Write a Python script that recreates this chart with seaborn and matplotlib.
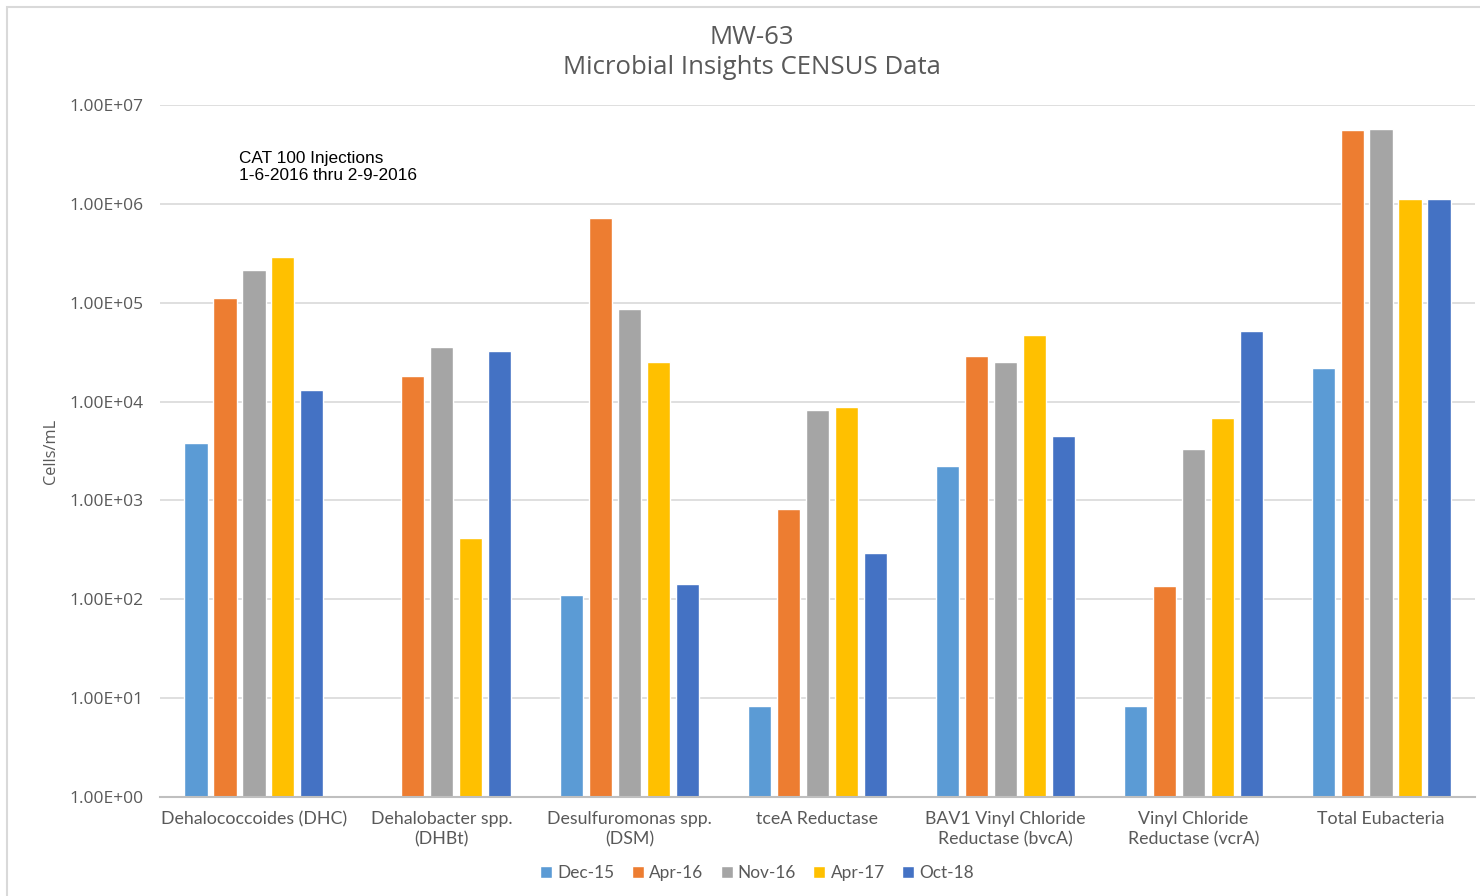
import numpy as np
import pandas as pd
import matplotlib
matplotlib.use("Agg")
import matplotlib.pyplot as plt
from matplotlib.ticker import FixedLocator, FuncFormatter, NullLocator
from matplotlib.patches import Rectangle
import seaborn as sns

# Sample categories (x axis) and sampling events (hue)
categories = [
    "Dehalococcoides (DHC)",
    "Dehalobacter spp.\n(DHBt)",
    "Desulfuromonas spp.\n(DSM)",
    "tceA Reductase",
    "BAV1 Vinyl Chloride\nReductase (bvcA)",
    "Vinyl Chloride\nReductase (vcrA)",
    "Total Eubacteria",
]
events = ["Dec-15", "Apr-16", "Nov-16", "Apr-17", "Oct-18"]

# Cells/mL per event, one value per category
dec15 = [3.8e3, np.nan, 1.1e2, 8.3, 2.25e3, 8.3, 2.2e4]
apr16 = [1.12e5, 1.8e4, 7.2e5, 8.2e2, 2.9e4, 1.37e2, 5.6e6]
nov16 = [2.14e5, 3.6e4, 8.7e4, 8.2e3, 2.5e4, 3.3e3, 5.7e6]
apr17 = [2.9e5, 4.2e2, 2.5e4, 8.8e3, 4.75e4, 6.8e3, 1.12e6]
oct18 = [1.31e4, 3.25e4, 1.42e2, 2.96e2, 4.5e3, 5.2e4, 1.12e6]

tick_values = [1e0, 1e1, 1e2, 1e3, 1e4, 1e5, 1e6, 1e7]
palette = ["#5B9BD5", "#ED7D31", "#A5A5A5", "#FFC000", "#4472C4"]

series = [dec15, apr16, nov16, apr17, oct18]
df = pd.DataFrame(
    [(c, e, v) for e, vals in zip(events, series) for c, v in zip(categories, vals)],
    columns=["category", "event", "cells"],
)

sns.set_theme(style="white")
plt.rcParams["font.family"] = ["Open Sans", "DejaVu Sans"]

fig = plt.figure(figsize=(14.8, 8.96), dpi=100)
ax = fig.add_axes([160 / 1480, 1 - 797 / 896, 1315 / 1480, 692 / 896])

sns.barplot(
    data=df, x="category", y="cells", hue="event", hue_order=events,
    order=categories, palette=palette, width=0.77, gap=0.2,
    ax=ax, legend=True, saturation=1, errorbar=None,
)
ax.set_yscale("log", nonpositive="clip")

ax.set_ylim(1, 1e7)
ax.set_xlim(-0.5, 6.5)
ax.yaxis.set_major_locator(FixedLocator(tick_values))
ax.yaxis.set_minor_locator(NullLocator())
ax.yaxis.set_major_formatter(FuncFormatter(lambda v, p: f"{v:.2E}"))
ax.grid(axis="y", color="#D9D9D9", linewidth=1.2, zorder=0)
ax.set_axisbelow(True)
for s in ["top", "right", "left"]:
    ax.spines[s].set_visible(False)
ax.spines["bottom"].set_color("#BFBFBF")
ax.spines["bottom"].set_linewidth(1.5)
ax.tick_params(axis="y", length=0, pad=12, labelsize=12.5, labelcolor="#595959")
ax.tick_params(axis="x", length=0, pad=10, labelcolor="#595959")
for lbl in ax.get_xticklabels():
    lbl.set_fontfamily(["Lato", "DejaVu Sans"])
    lbl.set_fontsize(12.8)
    lbl.set_linespacing(1.3)
ax.set_xlabel("")
ax.set_ylabel("Cells/mL", fontsize=11.8, color="#595959", labelpad=7)

# Title
fig.text(752 / 1480, 1 - 37 / 896, "MW-63", ha="center", va="center",
         fontsize=18.5, color="#595959")
fig.text(752 / 1480, 1 - 68 / 896, "Microbial Insights CENSUS Data", ha="center",
         va="center", fontsize=18.5, color="#595959")

# Injection note
ax.text((239 - 160) / 1315, (797 - 151) / 692,
        "CAT 100 Injections\n1-6-2016 thru 2-9-2016",
        transform=ax.transAxes, ha="left", va="top", fontsize=12.4,
        family=["Liberation Sans", "DejaVu Sans"], color="black", linespacing=1.15)

# Legend below the plot
handles, labels = ax.get_legend_handles_labels()
ax.legend_.remove()
leg = fig.legend(handles, labels, loc="center", ncol=5,
                 bbox_to_anchor=(757 / 1480, 1 - 873 / 896), frameon=False,
                 handlelength=0.7, handleheight=0.7, handletextpad=0.3,
                 columnspacing=1.0, prop={"family": ["Lato", "DejaVu Sans"], "size": 12.4})
for t in leg.get_texts():
    t.set_color("#595959")

# Chart-area border
fig.patches.append(Rectangle((7 / 1480, -0.01), 1.02, 1 - 7 / 896 + 0.01,
                             transform=fig.transFigure, fill=False,
                             edgecolor="#D9D9D9", linewidth=1.5))

fig.savefig("out.png", dpi=100)
